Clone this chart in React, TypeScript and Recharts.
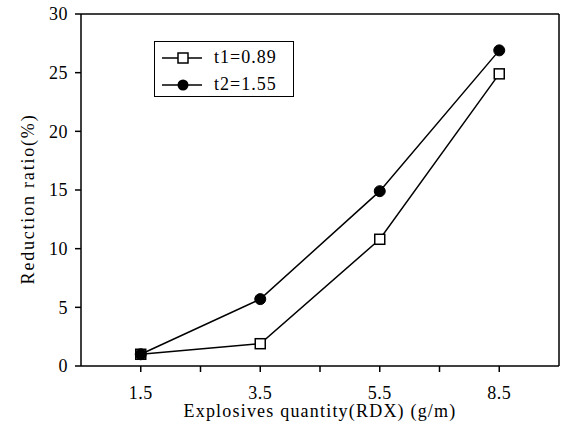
import React from 'react';
import { LineChart, Line, XAxis, YAxis, ReferenceLine, Legend } from 'recharts';

const CATEGORIES = ['1.5', '3.5', '5.5', '8.5'];
const T1_VALUES = [1.0, 1.9, 10.8, 24.9];
const T2_VALUES = [1.0, 5.7, 14.9, 26.9];
const SERIES_NAMES = ['t1=0.89', 't2=1.55'];
const Y_TICKS = [0, 5, 10, 15, 20, 25, 30];
// category i sits at position 2i+1, even positions are the unlabelled ticks in between
const X_TICKS = [1, 2, 3, 4, 5, 6, 7];

const data = CATEGORIES.map((c, i) => ({
  pos: i * 2 + 1,
  label: c,
  t1: T1_VALUES[i],
  t2: T2_VALUES[i],
}));

const FONT = '"Liberation Serif", serif';

const SquareDot = (props: any) => {
  const { cx, cy, index } = props;
  return <rect key={`sq-${index}`} x={cx - 5} y={cy - 5} width={10} height={10} fill="#fff" stroke="#000" strokeWidth={1.5} />;
};

const CircleDot = (props: any) => {
  const { cx, cy, index } = props;
  return <circle key={`ci-${index}`} cx={cx} cy={cy} r={5.5} fill="#000" stroke="#000" strokeWidth={1} />;
};

function LegendBox({ payload }: any) {
  return (
    <div
      style={{
        border: '1.5px solid #000',
        background: '#fff',
        width: 138,
        height: 54,
        boxSizing: 'content-box',
        fontFamily: FONT,
        fontSize: 18,
        letterSpacing: 1,
        color: '#000',
      }}
    >
      {(payload || []).map((entry: any, i: number) => (
        <div key={entry.value} style={{ display: 'flex', alignItems: 'center', height: 27, marginTop: i === 0 ? 2 : 0 }}>
          <svg width={58} height={14} style={{ marginLeft: 7 }}>
            <line x1={0} y1={7} x2={40} y2={7} stroke="#000" strokeWidth={1.5} />
            {entry.dataKey === 't1' ? (
              <rect x={16} y={2} width={10} height={10} fill="#fff" stroke="#000" strokeWidth={1.5} />
            ) : (
              <circle cx={21} cy={7} r={5.5} fill="#000" />
            )}
          </svg>
          <span style={{ marginLeft: -6 }}>{entry.value}</span>
        </div>
      ))}
    </div>
  );
}

export default function App() {
  return (
    <div style={{ position: 'absolute', left: 0, top: 0, background: '#fff' }}>
      <LineChart width={561} height={427} data={data} margin={{ top: 14, right: 2, bottom: 0, left: 0 }}>
        <XAxis
          dataKey="pos"
          type="number"
          domain={[0, 8]}
          ticks={X_TICKS}
          tickFormatter={(v: number) => (v % 2 === 1 ? CATEGORIES[(v - 1) / 2] : '')}
          height={61}
          tickSize={6}
          tickMargin={14}
          axisLine={{ stroke: '#000', strokeWidth: 1.5 }}
          tickLine={{ stroke: '#000', strokeWidth: 1.5 }}
          tick={{ fill: '#000', fontFamily: FONT, fontSize: 18, letterSpacing: 0.5 }}
          label={({ viewBox }: any) => (
            <text
              x={viewBox.x + viewBox.width / 2}
              y={417}
              textAnchor="middle"
              fill="#000"
              fontFamily={FONT}
              fontSize={18}
              letterSpacing={1.2}
            >
              Explosives quantity(RDX) (g/m)
            </text>
          )}
        />
        <YAxis
          type="number"
          domain={[0, 30]}
          ticks={Y_TICKS}
          width={81}
          tickSize={6}
          tickMargin={7}
          axisLine={{ stroke: '#000', strokeWidth: 1.5 }}
          tickLine={{ stroke: '#000', strokeWidth: 1.5 }}
          tick={{ fill: '#000', fontFamily: FONT, fontSize: 18, letterSpacing: 0.5 }}
          label={({ viewBox }: any) => {
            const x = 34;
            const y = viewBox.y + viewBox.height / 2 + 9;
            return (
              <text
                x={x}
                y={y}
                transform={`rotate(-90 ${x} ${y})`}
                textAnchor="middle"
                fill="#000"
                fontFamily={FONT}
                fontSize={18}
                letterSpacing={1.8}
              >
                Reduction ratio(%)
              </text>
            );
          }}
        />
        <ReferenceLine y={30} stroke="#000" strokeWidth={1.5} />
        <ReferenceLine x={8} stroke="#000" strokeWidth={1.5} />
        <Line
          dataKey="t1"
          name={SERIES_NAMES[0]}
          stroke="#000"
          strokeWidth={1.5}
          dot={SquareDot}
          isAnimationActive={false}
        />
        <Line
          dataKey="t2"
          name={SERIES_NAMES[1]}
          stroke="#000"
          strokeWidth={1.5}
          dot={CircleDot}
          isAnimationActive={false}
        />
        <Legend
          layout="vertical"
          align="center"
          verticalAlign="middle"
          content={LegendBox}
          wrapperStyle={{ position: 'absolute', left: 154, top: 41, width: 'auto', height: 'auto' }}
        />
      </LineChart>
    </div>
  );
}
